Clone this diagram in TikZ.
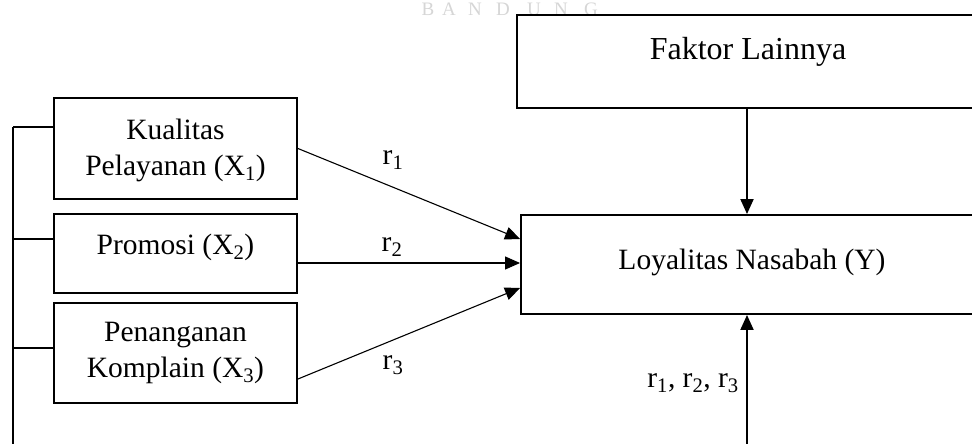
\documentclass[tikz,border=0pt]{standalone}
\usepackage{fontspec}
\setmainfont{Liberation Serif}
\usetikzlibrary{arrows.meta,calc}
\tikzset{
  box/.style={draw, line width=1.9pt, inner sep=0pt, align=center},
  txt/.style={inner sep=0pt, align=center, font=\fontsize{29.5}{36}\selectfont},
  link/.style={line width=2pt},
  path/.style={line width=1.1pt, -{Triangle[length=15pt,width=13pt]}},
  bigarrow/.style={line width=2pt, -{Triangle[length=15pt,width=13pt]}},
  wmark/.style={inner sep=0pt, text=black!16, font=\fontsize{19}{19}\selectfont},
}
\begin{document}
\begin{tikzpicture}[x=1pt,y=-1pt]
\useasboundingbox (0,0) rectangle (972,444);
\clip (0,0) rectangle (972,444);
\fill[white] (0,0) rectangle (972,444);

% faint heading letters at the top edge
\foreach \ch/\cx [count=\k] in {B/428,A/449,N/475,D/503,U/534,N/561,G/591}
  \node[wmark, anchor=base] (wm\k) at (\cx,15.5) {\ch};

% independent variables
\node[box, minimum width=243, minimum height=101] (b1) at (175.5,148.5) {};
\node[txt] (t1) at (175.5,150.5) {Kualitas\\Pelayanan (X\textsubscript{1})};
\node[box, minimum width=243, minimum height=79] (b2) at (175.5,253.5) {};
\node[txt] (t2) at (175.5,247) {Promosi (X\textsubscript{2})};
\node[box, minimum width=243, minimum height=100] (b3) at (175.5,353) {};
\node[txt] (t3) at (175.5,352.5) {Penanganan\\Komplain (X\textsubscript{3})};

% other factors and dependent variable
\node[box, minimum width=473, minimum height=93] (fak) at (753.5,61.5) {};
\node[txt, font=\fontsize{32}{36}\selectfont] (tf) at (748,52) {Faktor Lainnya};
\node[box, minimum width=469, minimum height=99] (loy) at (755.5,264.5) {};
\node[txt] (ty) at (752,262) {Loyalitas Nasabah (Y)};

% bracket joining the three variables
\coordinate (bt) at (13,127);
\coordinate (bb) at (13,450);
\draw[link] (bt) -- (bb);
\draw[link] (bt) -- (bt -| b1.west);
\draw[link] (13,239) -- (13,239 -| b2.west);
\draw[link] (13,348) -- (13,348 -| b3.west);

% partial paths
\draw[path] (b1.east) -- ($(loy.west)+(0,-25.5)$);
\draw[path] ($(b2.east)+(0,9.5)$) -- ($(loy.west)+(0,-1.5)$);
\draw[path] ($(b3.east)+(0,26)$) -- ($(loy.west)+(0,23.5)$);
\node[txt] (r1) at (393,160) {r\textsubscript{1}};
\node[txt] (r2) at (392,247) {r\textsubscript{2}};
\node[txt] (r3) at (393,365) {r\textsubscript{3}};

% other factors and simultaneous path
\draw[bigarrow] (fak.south -| 747,0) -- (loy.north -| 747,0);
\coordinate (up) at (747,450);
\draw[bigarrow] (up) -- (loy.south -| up);
\node[txt, anchor=east] (r123) at (739,383) {r\textsubscript{1}, r\textsubscript{2}, r\textsubscript{3}};
\end{tikzpicture}
\end{document}
